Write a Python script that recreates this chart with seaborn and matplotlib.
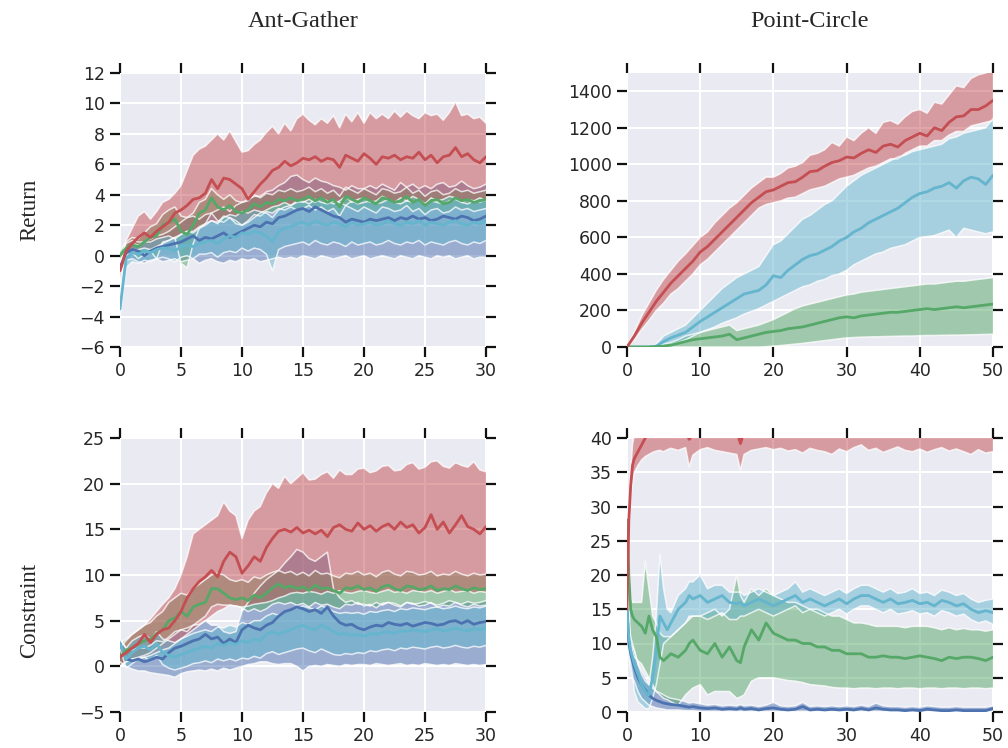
import numpy as np
import matplotlib
matplotlib.use("Agg")
import matplotlib.pyplot as plt
import seaborn as sns

# ---------------- data ----------------
ag_x = np.linspace(0, 30, 61)
pc_ret_x = np.linspace(0, 50, 51)
pc_con_x = np.array([0, 0.25, 0.5, 0.75, 1, 1.5, 2, 2.5, 3, 3.5, 4, 4.5, 5, 5.5, 6,
                     7, 8, 8.5, 9, 10, 11, 12, 13, 14, 15, 15.5] + list(range(16, 51)), dtype=float)

# Ant-Gather / Return
agr_red_mean = [-1.0, 0.3, 0.8, 1.2, 1.5, 1.2, 1.6, 1.9, 2.2, 2.8, 3.0, 3.3, 3.7, 3.8, 4.1, 5.0, 4.4, 5.1, 5.0, 4.7,
                4.4, 3.7, 4.2, 4.7, 5.1, 5.6, 5.8, 6.2, 5.9, 6.1, 6.4, 6.3, 6.5, 6.2, 6.4, 6.3, 5.8, 6.6, 6.4, 6.2,
                6.7, 6.4, 6.0, 6.5, 6.4, 6.6, 6.3, 6.5, 6.4, 6.8, 6.3, 6.6, 6.1, 6.5, 6.6, 7.1, 6.5, 6.7, 6.3, 6.1, 6.5]
agr_red_hi = [-0.5, 1.0, 1.8, 2.6, 2.9, 2.4, 2.9, 3.5, 3.7, 4.1, 4.6, 5.6, 6.6, 7.0, 7.2, 7.6, 8.0, 7.6, 8.2, 7.5,
              6.8, 6.9, 7.3, 7.6, 8.1, 8.5, 8.0, 8.7, 8.2, 9.0, 9.3, 8.9, 8.6, 9.0, 8.7, 9.2, 8.4, 9.3, 8.8, 9.4,
              8.7, 9.4, 9.0, 9.3, 9.0, 9.5, 9.1, 9.5, 9.2, 9.0, 9.4, 9.2, 9.3, 8.9, 9.4, 10.1, 9.2, 9.3, 9.0, 9.1, 8.7]
agr_red_lo = [-1.5, -0.2, 0.2, 0.4, 0.5, 0.4, 0.6, 0.8, 1.0, 1.2, 1.4, 1.6, 1.5, 1.8, 2.0, 2.3, 2.2, 2.6, 2.5, 2.3,
              2.0, 2.2, 2.5, 2.8, 3.0, 3.2, 3.3, 3.5, 3.3, 3.6, 3.5, 3.7, 3.5, 3.8, 3.6, 3.4, 3.6, 3.9, 3.5, 3.7,
              3.8, 3.5, 3.6, 3.9, 3.7, 3.5, 3.8, 3.6, 3.9, 3.7, 3.4, 3.8, 3.6, 3.7, 3.9, 3.8, 3.5, 3.7, 3.6, 3.8, 3.6]
agr_green_mean = [0.0, 0.5, 0.7, 0.6, 0.9, 1.2, 1.3, 2.0, 2.2, 2.4, 1.6, 1.4, 2.0, 2.8, 3.0, 3.8, 3.2, 3.0, 3.3, 2.9,
                  2.8, 3.0, 3.4, 3.2, 3.5, 3.4, 3.7, 3.6, 3.8, 3.6, 3.7, 3.9, 3.6, 3.8, 3.5, 3.7, 3.2, 3.9, 3.7, 3.5,
                  3.8, 3.6, 3.4, 3.8, 3.7, 3.5, 3.6, 3.9, 3.5, 3.7, 3.3, 3.6, 3.7, 3.4, 3.5, 3.8, 3.6, 3.7, 3.5, 3.6, 3.7]
agr_green_hi = [0.3, 0.9, 1.2, 1.1, 1.5, 1.9, 2.1, 2.7, 3.0, 3.2, 2.6, 2.5, 2.8, 3.5, 3.7, 4.4, 4.0, 3.7, 4.0, 3.6,
                3.5, 3.6, 4.0, 3.8, 4.1, 4.0, 4.3, 4.2, 4.4, 4.2, 4.3, 4.5, 4.2, 4.4, 4.1, 4.3, 3.9, 4.5, 4.3, 4.1,
                4.4, 4.2, 4.0, 4.4, 4.3, 4.1, 4.2, 4.5, 4.1, 4.3, 3.9, 4.2, 4.3, 4.0, 4.1, 4.4, 4.2, 4.3, 4.1, 4.2, 4.3]
agr_green_lo = [-0.3, 0.0, 0.2, -0.2, 0.1, 0.3, -0.2, 0.9, 1.0, 1.2, -0.5, -0.8, 0.8, 1.8, 2.1, 2.8, 2.3, 2.2, 2.5, 2.1,
                2.0, 2.3, 2.7, 2.6, 2.9, 2.8, 3.1, 3.0, 3.2, 3.0, 3.1, 3.3, 3.0, 3.2, 2.9, 3.1, 2.6, 3.3, 3.1, 2.9,
                3.2, 3.0, 2.8, 3.2, 3.1, 2.9, 3.0, 3.3, 2.9, 3.1, 2.7, 3.0, 3.1, 2.8, 2.9, 3.2, 3.0, 3.1, 2.9, 3.0, 3.1]
agr_blue_mean = [-0.8, 0.2, 0.4, 0.3, 0.0, 0.3, 0.5, 0.6, 0.7, 0.8, 0.9, 1.1, 1.3, 1.0, 1.2, 1.1, 1.3, 1.5, 1.2, 1.4,
                 1.6, 1.8, 2.0, 1.9, 2.2, 2.1, 2.5, 2.6, 2.8, 3.0, 3.1, 2.9, 3.2, 3.0, 2.8, 2.6, 2.5, 2.2, 2.4, 2.3,
                 2.2, 2.4, 2.3, 2.4, 2.5, 2.3, 2.5, 2.4, 2.6, 2.4, 2.5, 2.3, 2.4, 2.6, 2.5, 2.4, 2.6, 2.5, 2.3, 2.4, 2.6]
agr_blue_hi = [-0.4, 0.8, 1.0, 0.9, 0.9, 1.1, 1.3, 1.4, 1.6, 1.9, 2.2, 2.5, 2.6, 2.4, 2.7, 2.8, 3.0, 3.2, 2.9, 3.3,
               3.5, 3.7, 3.9, 3.9, 4.2, 4.3, 4.6, 4.8, 5.2, 5.3, 5.0, 4.8, 5.1, 4.9, 4.8, 4.6, 4.5, 4.3, 4.6, 4.4,
               4.4, 4.6, 4.4, 4.7, 4.5, 4.3, 4.8, 4.5, 4.7, 4.4, 4.6, 4.4, 4.7, 4.8, 4.5, 4.6, 4.9, 4.6, 4.4, 4.5, 4.7]
agr_blue_lo = [-1.2, -0.3, -0.2, -0.4, -0.5, -0.3, -0.2, -0.4, -0.3, -0.2, -0.4, -0.3, -0.2, -0.5, -0.3, -0.2, -0.4, -0.5, -0.3, -0.4,
               -0.2, -0.3, -0.2, -0.4, -0.3, -0.2, -0.1, -0.2, -0.1, -0.2, 0.0, -0.1, -0.2, 0.0, -0.1, -0.2, -0.1, 0.0, -0.2, -0.1,
               0.0, -0.2, -0.1, 0.0, -0.1, -0.2, 0.0, -0.1, -0.2, 0.0, -0.1, -0.2, 0.0, -0.1, 0.0, -0.2, -0.1, 0.0, -0.2, -0.1, -0.1]
agr_cyan_mean = [-3.5, -0.2, 0.2, 0.1, 0.3, 0.2, 0.4, 0.5, 0.5, 0.3, 0.6, 0.7, 0.6, 0.8, 0.9, 1.0, 0.8, 1.1, 1.3, 1.2,
                 1.5, 1.4, 1.6, 1.5, 1.3, 0.9, 1.6, 1.8, 1.9, 2.1, 2.2, 2.0, 2.3, 2.1, 2.0, 2.2, 2.1, 1.9, 2.2, 2.0,
                 2.1, 2.2, 2.0, 2.1, 2.3, 2.1, 2.0, 2.2, 2.1, 2.3, 2.0, 2.2, 2.1, 2.0, 2.2, 2.3, 2.1, 2.0, 2.2, 2.1, 2.3]
agr_cyan_hi = [-2.8, 0.4, 0.8, 0.7, 0.9, 0.9, 1.1, 1.2, 1.3, 1.1, 1.4, 1.6, 1.6, 1.9, 2.1, 2.3, 2.1, 2.5, 2.7, 2.6,
               2.9, 2.8, 3.0, 2.9, 2.8, 2.5, 3.0, 3.2, 3.3, 3.5, 3.6, 3.4, 3.7, 3.5, 3.4, 3.6, 3.5, 3.3, 3.6, 3.4,
               3.5, 3.6, 3.4, 3.5, 3.7, 3.5, 3.4, 3.6, 3.5, 3.7, 3.4, 3.6, 3.5, 3.4, 3.6, 3.7, 3.5, 3.4, 3.6, 3.5, 3.7]
agr_cyan_lo = [-4.0, -0.8, -0.4, -0.5, -0.3, -0.4, -0.2, -0.1, -0.2, -0.4, -0.1, 0.0, -0.2, 0.1, 0.1, 0.2, -0.1, 0.2, 0.3, 0.2,
               0.5, 0.3, 0.5, 0.4, 0.1, -1.0, 0.4, 0.6, 0.7, 0.8, 0.9, 0.7, 1.0, 0.8, 0.7, 0.9, 0.8, 0.6, 0.9, 0.7,
               0.8, 0.9, 0.7, 0.8, 1.0, 0.8, 0.7, 0.9, 0.8, 1.0, 0.7, 0.9, 0.8, 0.7, 0.9, 1.0, 0.8, 0.7, 0.9, 0.8, 1.0]

# Ant-Gather / Constraint
agc_red_mean = [1.0, 1.5, 2.0, 2.5, 3.5, 2.6, 3.5, 4.0, 4.2, 5.0, 6.0, 7.5, 8.5, 9.3, 9.8, 10.5, 9.8, 11.5, 12.5, 12.0,
                10.2, 11.0, 12.0, 11.5, 13.0, 14.0, 14.8, 15.0, 14.7, 15.2, 14.6, 14.9, 14.5, 14.9, 14.2, 15.2, 15.5, 15.0, 14.8, 15.7,
                15.0, 15.4, 14.8, 15.3, 15.6, 15.0, 15.8, 15.2, 15.5, 14.6, 15.2, 16.6, 15.0, 15.8, 14.6, 15.5, 16.5, 15.3, 15.0, 14.5, 15.3]
agc_red_hi = [2.0, 2.8, 3.5, 4.0, 4.5, 5.2, 6.0, 6.8, 7.5, 8.5, 10.0, 12.0, 14.5, 15.0, 15.5, 16.0, 16.5, 18.0, 17.0, 16.5,
              14.0, 16.0, 17.0, 17.5, 19.0, 20.0, 19.5, 20.8, 20.0, 20.6, 21.2, 20.4, 20.5, 21.0, 21.3, 20.6, 21.5, 21.0, 21.0, 21.6,
              21.7, 21.2, 21.4, 21.9, 22.0, 21.4, 21.5, 22.1, 22.3, 21.6, 21.8, 22.4, 22.5, 21.9, 21.7, 22.3, 22.0, 21.8, 22.4, 21.5, 21.3]
agc_red_lo = [0.0, 0.5, 0.8, 0.9, 1.0, 1.2, 1.5, 1.8, 2.0, 2.5, 3.0, 3.5, 4.0, 4.5, 5.0, 5.5, 6.0, 6.3, 6.7, 6.6,
              6.5, 6.6, 6.8, 6.9, 7.0, 7.2, 7.5, 7.7, 8.0, 8.1, 8.0, 8.2, 8.1, 7.9, 8.2, 8.0, 8.3, 8.1, 8.0, 8.2,
              8.3, 8.1, 8.0, 8.2, 8.4, 8.1, 8.2, 8.0, 8.3, 8.2, 8.1, 8.3, 8.0, 8.2, 8.4, 8.1, 8.2, 8.3, 8.0, 8.2, 8.1]
agc_green_mean = [1.0, 1.8, 2.0, 2.5, 2.8, 3.0, 3.6, 4.0, 5.0, 5.3, 6.0, 5.5, 6.5, 6.8, 7.0, 8.5, 8.5, 8.0, 7.5, 7.3,
                  7.5, 7.2, 7.8, 7.5, 8.0, 8.6, 9.0, 8.6, 8.8, 8.5, 8.7, 8.3, 8.9, 8.5, 8.6, 8.3, 8.0, 8.6, 8.5, 8.8,
                  8.4, 8.6, 8.2, 8.7, 8.9, 8.5, 8.3, 8.8, 8.7, 8.4, 8.5, 8.8, 8.3, 8.5, 8.4, 8.8, 8.5, 8.3, 8.6, 8.4, 8.5]
agc_green_hi = [2.5, 3.0, 3.5, 4.0, 4.5, 4.8, 5.5, 6.0, 7.0, 7.5, 8.0, 7.8, 8.5, 9.0, 9.5, 10.0, 10.2, 10.0, 9.5, 9.3,
                9.5, 9.2, 9.8, 9.6, 10.0, 10.3, 10.5, 10.2, 10.4, 10.0, 10.3, 9.9, 10.5, 10.1, 10.2, 9.9, 9.7, 10.2, 10.1, 10.4,
                10.0, 10.2, 9.8, 10.3, 10.5, 10.1, 9.9, 10.4, 10.3, 10.0, 10.1, 10.4, 9.9, 10.1, 10.0, 10.4, 10.1, 9.9, 10.2, 10.0, 10.1]
agc_green_lo = [0.0, 0.5, 0.8, 1.0, 1.2, 1.5, 2.0, 2.5, 3.0, 3.5, 4.0, 3.8, 4.5, 5.0, 5.5, 6.5, 6.8, 6.7, 6.7, 6.6,
                6.4, 6.0, 6.3, 6.0, 6.3, 6.8, 7.0, 6.8, 7.0, 6.7, 6.9, 6.5, 7.0, 6.7, 6.8, 6.5, 6.3, 6.8, 6.7, 7.0,
                6.6, 6.8, 6.4, 6.9, 7.0, 6.7, 6.5, 7.0, 6.9, 6.6, 6.7, 7.0, 6.5, 6.7, 6.6, 7.0, 6.7, 6.5, 6.8, 6.6, 6.7]
agc_blue_mean = [2.5, 0.8, 0.6, 0.8, 0.5, 0.7, 1.0, 0.8, 1.5, 2.0, 2.2, 2.5, 2.8, 3.0, 3.5, 3.0, 3.2, 2.5, 3.0, 2.6,
                 4.0, 4.5, 4.2, 4.0, 4.5, 4.8, 5.5, 6.0, 6.2, 6.5, 6.3, 6.0, 6.2, 5.8, 6.5, 5.5, 4.8, 4.5, 4.6, 4.2,
                 4.0, 4.3, 4.5, 4.4, 4.8, 4.6, 4.5, 4.7, 4.4, 4.6, 4.8, 4.7, 4.5, 4.6, 4.9, 5.0, 4.7, 5.0, 4.6, 4.8, 4.9]
agc_blue_hi = [3.0, 2.0, 1.8, 2.0, 2.0, 2.3, 2.8, 2.7, 3.2, 3.8, 4.0, 4.2, 4.5, 4.6, 5.0, 4.5, 4.5, 3.8, 3.6, 3.8,
               6.0, 7.0, 8.0, 8.8, 9.5, 10.0, 10.5, 11.3, 12.0, 12.8, 12.5, 11.8, 11.5, 12.0, 12.5, 8.5, 7.5, 7.0, 7.2, 6.8,
               6.8, 6.6, 7.0, 6.7, 7.0, 6.9, 6.6, 7.0, 6.8, 6.9, 7.1, 6.9, 6.7, 6.9, 7.2, 7.0, 6.8, 7.1, 6.9, 7.0, 7.2]
agc_blue_lo = [0.5, 0.0, -0.3, -0.5, -0.5, -0.7, -0.8, -0.9, -1.0, -1.2, -0.8, -0.6, -0.5, -0.4, -0.5, -0.3, -0.5, -0.2, -0.4, -0.2,
               0.0, 0.2, 0.3, 0.5, 0.5, 0.3, 0.2, 0.3, 0.3, 0.0, -0.5, 0.0, 0.1, 0.0, 0.2, 0.1, 0.0, 0.2, 0.1, 0.2,
               0.2, 0.1, 0.3, 0.2, 0.1, 0.2, 0.3, 0.1, 0.2, 0.1, 0.3, 0.2, 0.1, 0.2, 0.1, 0.3, 0.2, 0.1, 0.2, 0.1, 0.2]
agc_cyan_mean = [2.5, 0.8, 1.5, 2.0, 2.2, 1.8, 2.5, 1.5, 1.2, 1.0, 1.3, 1.5, 1.8, 2.0, 2.2, 2.0, 2.5, 2.3, 2.6, 2.4,
                 2.8, 2.6, 3.0, 2.8, 3.5, 3.8, 3.5, 3.8, 4.0, 4.3, 4.5, 4.2, 4.0, 4.5, 4.2, 3.8, 3.5, 3.6, 3.4, 3.5,
                 3.3, 3.6, 3.5, 3.7, 3.8, 3.6, 3.9, 3.8, 4.0, 3.9, 3.8, 4.0, 4.1, 3.9, 4.0, 4.2, 4.0, 3.9, 4.1, 4.0, 4.2]
agc_cyan_hi = [3.0, 2.0, 2.8, 3.2, 3.5, 3.0, 3.8, 3.0, 2.8, 2.6, 3.0, 3.3, 3.6, 3.8, 4.0, 3.8, 4.3, 4.2, 4.5, 4.3,
               4.8, 4.6, 5.0, 5.0, 5.5, 5.8, 5.6, 6.0, 6.2, 6.4, 6.6, 6.4, 6.2, 6.6, 6.4, 6.0, 5.8, 5.9, 5.8, 5.9,
               5.7, 6.0, 5.9, 6.1, 6.2, 6.0, 6.3, 6.2, 6.4, 6.3, 6.2, 6.4, 6.5, 6.3, 6.4, 6.6, 6.4, 6.3, 6.5, 6.4, 6.6]
agc_cyan_lo = [2.0, -0.2, 0.3, 0.8, 1.0, 0.6, 1.2, 0.2, -0.2, -0.4, -0.2, 0.0, 0.3, 0.4, 0.6, 0.4, 0.8, 0.6, 0.8, 0.6,
               0.9, 0.8, 1.1, 0.9, 1.4, 1.6, 1.3, 1.5, 1.7, 1.9, 2.0, 1.7, 1.5, 1.9, 1.6, 1.3, 1.2, 1.4, 1.3, 1.5,
               1.4, 1.7, 1.6, 1.8, 1.9, 1.7, 2.0, 1.9, 2.1, 2.0, 1.9, 2.1, 2.2, 2.0, 2.1, 2.3, 2.1, 2.0, 2.2, 2.1, 2.3]

# Point-Circle / Return
pcr_red_mean = [0, 60, 130, 190, 250, 300, 350, 390, 430, 470, 520, 550, 590, 630, 670, 710, 750, 790, 820, 850,
                860, 880, 900, 905, 930, 960, 965, 990, 1010, 1020, 1040, 1035, 1060, 1080, 1065, 1100, 1110, 1095, 1130, 1150,
                1170, 1155, 1200, 1185, 1230, 1260, 1265, 1300, 1300, 1320, 1350]
pcr_red_hi = [0, 80, 170, 240, 310, 370, 420, 470, 510, 555, 600, 630, 680, 720, 760, 790, 830, 870, 900, 930,
              930, 950, 980, 990, 1010, 1050, 1060, 1080, 1120, 1100, 1150, 1130, 1170, 1200, 1170, 1230, 1240, 1220, 1260, 1290,
              1300, 1280, 1340, 1330, 1380, 1430, 1420, 1470, 1490, 1500, 1520]
pcr_red_lo = [0, 40, 95, 145, 200, 240, 290, 320, 360, 400, 450, 480, 520, 560, 600, 640, 680, 720, 760, 780,
              790, 800, 815, 820, 840, 860, 870, 880, 900, 920, 930, 940, 960, 980, 990, 1010, 1030, 1030, 1060, 1080,
              1100, 1100, 1130, 1130, 1160, 1180, 1180, 1210, 1220, 1230, 1240]
pcr_cyan_mean = [0, 0, 0, 0, 5, 30, 50, 65, 80, 110, 140, 165, 190, 215, 240, 265, 290, 300, 310, 340,
                 390, 380, 420, 450, 480, 500, 510, 530, 550, 580, 600, 630, 650, 680, 700, 720, 740, 760, 790, 820,
                 840, 850, 870, 880, 900, 870, 910, 930, 920, 890, 940]
pcr_cyan_hi = [0, 0, 0, 0, 15, 60, 80, 100, 120, 160, 200, 240, 280, 320, 350, 380, 400, 420, 440, 500,
               560, 580, 620, 660, 700, 720, 750, 780, 800, 840, 880, 910, 940, 960, 980, 1000, 1020, 1040, 1050, 1070,
               1080, 1090, 1100, 1110, 1140, 1150, 1170, 1180, 1190, 1200, 1250]
pcr_cyan_lo = [0, 0, 0, 0, 0, 5, 15, 25, 40, 60, 80, 95, 110, 130, 145, 160, 180, 195, 210, 230,
               250, 270, 290, 310, 330, 340, 360, 370, 390, 400, 420, 450, 470, 490, 510, 520, 540, 550, 560, 580,
               600, 605, 610, 625, 640, 600, 650, 640, 630, 620, 630]
pcr_green_mean = [0, 0, 0, 0, 2, 5, 10, 20, 30, 40, 45, 50, 55, 60, 70, 40, 50, 60, 70, 80,
                  85, 90, 100, 105, 110, 120, 130, 140, 150, 160, 165, 160, 170, 175, 180, 185, 190, 190, 195, 200,
                  205, 210, 205, 210, 215, 220, 215, 220, 225, 230, 235]
pcr_green_hi = [0, 0, 0, 0, 5, 15, 25, 40, 60, 70, 80, 90, 100, 110, 120, 90, 100, 110, 120, 135,
                150, 170, 190, 210, 225, 235, 245, 255, 265, 275, 285, 290, 300, 305, 310, 315, 320, 325, 330, 335,
                340, 345, 345, 350, 355, 360, 360, 365, 370, 375, 380]
pcr_green_lo = [0, 0, 0, 0, 0, 0, 0, 0, 0, 0, 0, 0, 0, 0, 0, 0, 0, 0, 0, 2,
                5, 8, 12, 16, 20, 25, 30, 35, 40, 45, 50, 52, 54, 55, 56, 57, 58, 59, 60, 60,
                62, 63, 63, 64, 65, 65, 66, 67, 68, 69, 70]

# Point-Circle / Constraint
pcc_red_mean = [15, 28, 33, 36, 37, 38, 39, 40, 40.8, 41.3, 41.6, 41.8, 42, 42, 42, 42, 41, 39.8, 40.5,
                41.5, 42, 42, 42, 41.5, 41, 39.2,
                41, 42, 42, 42, 42, 42, 42, 42, 42, 42, 42, 42, 42, 42, 42, 42, 42, 42, 42, 42,
                42, 42, 42, 42, 42, 40.3, 42, 42, 42, 42, 42, 42, 42, 42, 42]
pcc_red_hi = [18, 30, 35, 39, 40.5, 41.5, 42.5, 43.5, 44, 44.5, 45, 45, 45, 45, 45, 45, 44, 42, 43,
              44, 45, 45, 45, 44.5, 44, 42,
              44, 45, 45, 45, 45, 45, 45, 45, 45, 45, 45, 45, 45, 45, 45, 45, 45, 45, 45, 45,
              45, 45, 45, 45, 45, 42, 45, 45, 45, 45, 45, 45, 45, 45, 45]
pcc_red_lo = [12, 26, 31, 33.5, 35, 36, 36.8, 37.3, 37.6, 37.9, 38.1, 38.2, 38.0, 38.3, 38.5, 38.2, 38.6, 35.8, 37.5,
              38.3, 38.6, 38.2, 38.0, 37.8, 37.6, 35.3,
              37.6, 38.2, 38.4, 38.6, 38.3, 38.5, 38.1, 38.3, 37.8, 38.5, 38.2, 38.0, 37.6, 38.4, 38.0, 38.6, 39.0, 38.2,
              38.5, 37.9, 38.3, 38.7, 38.2, 38.0, 38.4, 37.9, 38.3, 38.6, 38.1, 38.4, 38.0, 37.6, 38.3, 37.8, 38.0]
pcc_blue_mean = [15, 10, 8.5, 7.5, 6.5, 5.0, 4.0, 3.2, 2.5, 2.0, 1.7, 1.5, 1.3, 1.2, 1.1, 1.0, 0.8, 0.7, 0.8,
                 0.6, 0.5, 0.6, 0.4, 0.5, 0.4, 0.6,
                 0.4, 0.5, 0.3, 0.5, 0.6, 0.4, 0.3, 0.4, 0.8, 0.3, 0.4, 0.3, 0.4, 0.3, 0.4, 0.3, 0.5, 0.3,
                 0.6, 0.4, 0.3, 0.3, 0.2, 0.3, 0.2, 0.4, 0.3, 0.2, 0.2, 0.3, 0.2, 0.2, 0.2, 0.2, 0.5]
pcc_blue_hi = [16, 12, 10, 9.5, 9, 7, 6, 5, 4, 3.5, 3, 2.8, 2.5, 2.2, 2.0, 1.8, 1.5, 1.3, 1.4,
               1.2, 1.0, 1.1, 0.9, 1.0, 0.9, 1.1,
               0.9, 1.0, 0.8, 1.0, 1.4, 0.9, 0.8, 0.9, 1.4, 0.8, 0.9, 0.8, 0.9, 0.8, 0.9, 0.8, 1.0, 0.8,
               1.3, 0.9, 0.8, 0.8, 0.7, 0.8, 0.7, 0.9, 0.8, 0.7, 0.7, 0.8, 0.7, 0.7, 0.7, 0.7, 0.9]
pcc_blue_lo = [14, 8, 6, 5, 4.5, 3, 2, 1.5, 1, 0.8, 0.6, 0.5, 0.4, 0.3, 0.3, 0.3, 0.2, 0.2, 0.2,
               0.1, 0.1, 0.1, 0.1, 0.1, 0.1, 0.1,
               0.1, 0.1, 0.1, 0.1, 0.1, 0.1, 0.1, 0.1, 0.1, 0.1, 0.1, 0.1, 0.1, 0.1, 0.1, 0.1, 0.1, 0.1,
               0.1, 0.1, 0.1, 0.1, 0.1, 0.1, 0.1, 0.1, 0.1, 0.1, 0.1, 0.1, 0.1, 0.1, 0.1, 0.1, 0.1]
pcc_cyan_mean = [15, 11, 9, 8, 7, 5.5, 4, 3, 2.5, 5, 9, 14, 13, 12, 13, 15, 16, 17, 16.5,
                 17, 16, 16.5, 17, 16, 15.8, 16,
                 15.5, 16, 16.5, 16, 15.5, 16, 16.5, 17, 16, 16.5, 16, 15.5, 16, 16.5, 15.8, 16.5, 17, 17,
                 16.5, 16, 16.5, 15.8, 16, 16.3, 15.8, 16, 15.5, 16.3, 16, 15.5, 15.8, 15, 14.5, 14.8, 14.5]
pcc_cyan_hi = [16, 13, 11, 10, 9, 7, 5.5, 4.5, 4, 8, 14, 23, 18, 15, 14.5, 17, 18, 19, 19,
               20, 18, 18.5, 18.5, 17.5, 17.5, 17.5,
               17, 17.5, 18, 17.5, 17, 17.5, 18, 19, 17.5, 18, 17.5, 17, 17.5, 18, 17.3, 18, 18.5, 18.5,
               18, 17.5, 18, 17.3, 17.5, 18, 17.3, 17.5, 17, 17.8, 17.5, 17, 17.3, 16.5, 16, 16.3, 16.5]
pcc_cyan_lo = [14, 9, 7, 5.5, 3, 1.5, 1, 0.5, 0.5, 2, 4, 7, 10, 10.5, 11, 12, 13, 14, 14,
               14, 13.5, 14, 14.5, 13.5, 13.5, 14,
               14, 14.5, 15, 14.5, 14, 14.5, 15, 15.5, 14.5, 15, 14.5, 14, 14.5, 15, 14.3, 15, 15.5, 15.5,
               15, 14.5, 15, 14.3, 14.5, 14.8, 14.3, 14.5, 14, 14.8, 14.5, 14, 14.3, 13.5, 13, 13.3, 12.8]
pcc_green_mean = [28, 20, 15, 14, 13.5, 13, 12.5, 11.5, 14, 12, 11, 8, 7.5, 8, 8.5, 8, 9, 10, 10.5,
                  9, 8.5, 10, 8, 9.5, 7.5, 7.2,
                  9.5, 12, 10.5, 13, 11.5, 11, 10.5, 10.5, 10, 10, 9.5, 9.5, 9, 9, 8.5, 8.5, 8.5, 8,
                  8, 8.2, 8, 8, 7.8, 8, 8.2, 8, 7.8, 7.5, 8, 7.8, 8, 8, 7.8, 7.5, 8]
pcc_green_hi = [28.5, 22, 17, 16, 16, 16, 16, 22, 18, 14, 13, 11.5, 11, 11, 11, 12, 13, 13.5, 14,
                14, 14.5, 15, 14, 15, 20, 17,
                16, 18, 17, 18, 17, 16.5, 16, 16, 15.5, 15, 15, 14.5, 14, 14, 13.5, 13, 13, 12.8,
                12.5, 12.5, 12.5, 12.5, 12.3, 12.5, 12.5, 12.5, 12.3, 12, 12.3, 12, 12.2, 12, 12, 11.8, 12]
pcc_green_lo = [27, 16, 10, 9, 8, 7.5, 7, 6, 5, 4, 3, 2.5, 2, 1.8, 1.5, 1.0, 2.5, 3.0, 3.5,
                4.0, 2.5, 3.0, 3.0, 3.0, 2.0, 2.2,
                2.5, 4.5, 5.0, 5.0, 5.0, 4.8, 4.6, 4.5, 4.3, 4.0, 3.9, 3.8, 3.6, 3.5, 3.5, 3.4, 3.5, 3.5,
                3.4, 3.5, 3.5, 3.4, 3.5, 3.5, 3.4, 3.5, 3.5, 3.4, 3.5, 3.5, 3.4, 3.5, 3.5, 3.4, 3.5]

col_titles = ["Ant-Gather", "Point-Circle"]
row_labels = ["Return", "Constraint"]

# ---------------- style ----------------
sns.set_style("darkgrid", {"axes.facecolor": "#EAEAF2", "grid.color": "white"})
plt.rcParams["font.family"] = ["DejaVu Sans"]
BLUE, GREEN, RED, CYAN = "#4C72B0", "#55A868", "#C44E52", "#64B5CD"

fig = plt.figure(figsize=(10.08, 7.48), dpi=100)
W, H = 1008, 748
def rect(l, t, r, b):
    return [l / W, 1 - b / H, (r - l) / W, (b - t) / H]

panels = [
    dict(rect=rect(120, 73, 486, 347), x=ag_x, xlim=(0, 30), xt=np.arange(0, 31, 5),
         ylim=(-6, 12), yt=np.arange(-6, 13, 2),
         series=[(BLUE, agr_blue_mean, agr_blue_lo, agr_blue_hi),
                 (GREEN, agr_green_mean, agr_green_lo, agr_green_hi),
                 (RED, agr_red_mean, agr_red_lo, agr_red_hi),
                 (CYAN, agr_cyan_mean, agr_cyan_lo, agr_cyan_hi)]),
    dict(rect=rect(627, 73, 993, 347), x=pc_ret_x, xlim=(0, 50), xt=np.arange(0, 51, 10),
         ylim=(0, 1500), yt=np.arange(0, 1401, 200),
         series=[(GREEN, pcr_green_mean, pcr_green_lo, pcr_green_hi),
                 (RED, pcr_red_mean, pcr_red_lo, pcr_red_hi),
                 (CYAN, pcr_cyan_mean, pcr_cyan_lo, pcr_cyan_hi)]),
    dict(rect=rect(120, 438, 486, 712), x=ag_x, xlim=(0, 30), xt=np.arange(0, 31, 5),
         ylim=(-5, 25), yt=np.arange(-5, 26, 5),
         series=[(BLUE, agc_blue_mean, agc_blue_lo, agc_blue_hi),
                 (GREEN, agc_green_mean, agc_green_lo, agc_green_hi),
                 (RED, agc_red_mean, agc_red_lo, agc_red_hi),
                 (CYAN, agc_cyan_mean, agc_cyan_lo, agc_cyan_hi)]),
    dict(rect=rect(627, 438, 993, 712), x=pc_con_x, xlim=(0, 50), xt=np.arange(0, 51, 10),
         ylim=(0, 40), yt=np.arange(0, 41, 5),
         series=[(BLUE, pcc_blue_mean, pcc_blue_lo, pcc_blue_hi),
                 (GREEN, pcc_green_mean, pcc_green_lo, pcc_green_hi),
                 (RED, pcc_red_mean, pcc_red_lo, pcc_red_hi),
                 (CYAN, pcc_cyan_mean, pcc_cyan_lo, pcc_cyan_hi)]),
]

line_order = {BLUE: 1, CYAN: 2, GREEN: 3, RED: 4}
for i, p in enumerate(panels):
    ax = fig.add_axes(p["rect"])
    x = p["x"]
    for color, m, lo, hi in p["series"]:
        ax.fill_between(x, lo, hi, facecolor=color, alpha=0.5, edgecolor="none", zorder=1)
        ax.plot(x, lo, color="white", alpha=0.75, lw=1.1, zorder=1.5)
        ax.plot(x, hi, color="white", alpha=0.75, lw=1.1, zorder=1.5)
    for color, m, lo, hi in sorted(p["series"], key=lambda s: line_order[s[0]]):
        sns.lineplot(x=x, y=m, color=color, lw=2.0, ax=ax, zorder=3)
    ax.set_xlim(*p["xlim"])
    ax.set_ylim(*p["ylim"])
    ax.set_xticks(p["xt"])
    ax.set_yticks(p["yt"])
    for s in ax.spines.values():
        s.set_visible(False)
    ax.grid(True, color="white", lw=1.5)
    ax.tick_params(axis="both", which="both", direction="out", length=7, width=1.6,
                   color="#111111", labelsize=12.5, labelcolor="#262626", pad=4,
                   top=True, right=True, bottom=True, left=True,
                   labeltop=False, labelright=False)
    if i < 2:
        ax.set_title(col_titles[i], family="Liberation Serif", fontsize=17.5, pad=33)

fig.text(30 / W, 1 - 210 / H, row_labels[0], rotation=90, ha="center", va="center",
         family="Liberation Serif", fontsize=16.5)
fig.text(30 / W, 1 - 610 / H, row_labels[1], rotation=90, ha="center", va="center",
         family="Liberation Serif", fontsize=16.5)

fig.savefig("out.png", dpi=100)
